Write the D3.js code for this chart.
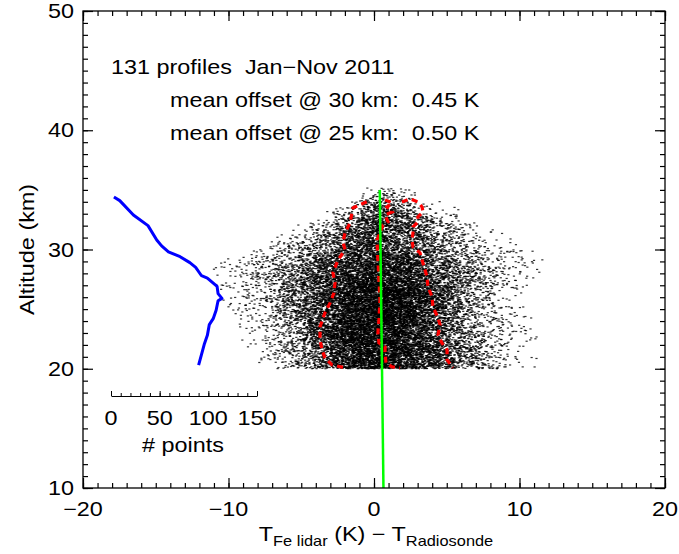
<!DOCTYPE html>
<html><head><meta charset="utf-8">
<script src="https://cdn.jsdelivr.net/npm/d3@7"></script>
<style>
body{margin:0;background:#fff;}
text{font-family:"Liberation Sans",Arial,Helvetica,sans-serif;fill:#000;}
</style></head>
<body>
<svg id="chart" width="679" height="554"></svg>
<script>
// ---------------- data ----------------
const xTicksMajor = [-20, -10, 0, 10, 20];
const yTicksMajor = [10, 20, 30, 40, 50];
const insetTicksMajor = [0, 50, 100, 150];

// red dashed: left envelope (mean - sigma)
const leftAlt = [34.0,33.49,33.07,32.23,31.39,30.64,29.97,29.13,28.04,27.20,26.36,25.52,24.69,23.51,22.42,21.58,20.91,20.33,20.08];
const leftK   = [-0.5,-1.44,-1.51,-1.65,-1.99,-2.13,-1.99,-2.47,-2.82,-2.68,-2.75,-3.02,-3.37,-3.71,-3.71,-3.57,-3.37,-2.89,-1.99];
// red dashed: right envelope (mean + sigma)
const rightAlt = [33.99,34.24,33.99,33.57,33.15,32.73,32.31,31.89,31.39,30.80,30.22,29.72,29.13,28.29,27.70,26.86,26.03,25.19,24.27,23.68,22.84,22.17,21.58,20.75,20.08];
const rightK   = [1.92,2.47,3.02,3.30,3.37,3.02,3.02,2.68,2.68,2.61,2.68,3.16,3.30,3.51,3.64,3.71,3.99,4.05,4.40,4.54,4.40,4.67,5.02,5.02,5.43];
// red dashed: mean
const centerAlt = [34.16,33.91,33.57,33.15,32.90,32.31,32.06,30.80,29.13,27.45,25.77,24.10,23.01,22.17,21.84,21.42,20.50,20.16,20.08];
const centerK   = [0.76,1.24,0.89,1.24,0.76,0.96,0.62,0.21,0.27,0.34,0.41,0.34,0.27,0.34,0.76,0.76,0.82,1.24,1.79];

// blue: number of points vs altitude
const countAlt = [34.4,34.1,32.9,32.0,30.8,30.3,29.8,29.4,28.9,28.5,27.8,27.6,26.9,26.3,25.9,25.7,24.9,24.2,23.7,22.8,22.1,21.5,20.3];
const counts   = [3,9,23,38,47,52,59,71,81,87,93,99,109,110,114,110,108,105,101,99,96,94,90];
// scatter cloud: read extent of the black points (K) vs altitude
const cloudAlt   = [20.0, 22.0, 24.0, 26.0, 28.5, 30.0, 32.0, 34.0, 35.2];
const cloudLowK  = [-7.5, -8.2, -8.5, -10.0, -10.8, -8.5, -5.0, -2.0, -1.0];
const cloudHighK = [10.3, 10.5, 10.0, 9.0, 11.0, 10.0, 7.5, 4.5, 4.0];
const topAlt = [34.4, 34.8, 35.2];
const topCount = [5, 3, 2];

// green: linear fit of mean offset
const fitAlt = [10, 35];
const fitK = [0.65, 0.40];

// text
const infoLines = ["131 profiles\u00a0\u00a0Jan\u2212Nov 2011", "mean offset @ 30 km:\u00a0\u00a00.45 K", "mean offset @ 25 km:\u00a0\u00a00.50 K"];

// ---------------- layout ----------------
const svg = d3.select("#chart");
const L = 83, R = 665, T = 11, B = 488;
const x = d3.scaleLinear().domain([-20, 20]).range([L, R]);
const y = d3.scaleLinear().domain([10, 50]).range([B, T]);
const xi = d3.scaleLinear().domain([0, 150]).range([111, 257]);
const insetY = 396;
const FS = 20, SX = 1.17;

function label(g, px, py, s, anchor, rot) {
  return g.append("text")
    .attr("transform", `translate(${px},${py})` + (rot ? ` rotate(${rot})` : "") + ` scale(${SX},1)`)
    .attr("text-anchor", anchor || "start").attr("font-size", FS).text(s);
}

// ---------------- scatter cloud ----------------
function interp(xs, ys, v) {
  const pairs = xs.map((a, i) => [a, ys[i]]).sort((a, b) => a[0] - b[0]);
  if (v <= pairs[0][0]) return pairs[0][1];
  if (v >= pairs[pairs.length - 1][0]) return pairs[pairs.length - 1][1];
  for (let i = 1; i < pairs.length; i++) {
    if (v <= pairs[i][0]) {
      const t = (v - pairs[i-1][0]) / (pairs[i][0] - pairs[i-1][0]);
      return pairs[i-1][1] + t * (pairs[i][1] - pairs[i-1][1]);
    }
  }
}
// inverse normal CDF (Acklam)
function ninv(p) {
  const a=[-3.969683028665376e+01,2.209460984245205e+02,-2.759285104469687e+02,1.383577518672690e+02,-3.066479806614716e+01,2.506628277459239e+00];
  const b=[-5.447609879822406e+01,1.615858368580409e+02,-1.556989798598866e+02,6.680131188771972e+01,-1.328068155288572e+01];
  const c=[-7.784894002430293e-03,-3.223964580411365e-01,-2.400758277161838e+00,-2.549671688254167e+00,4.374664141464968e+00,2.938163982698783e+00];
  const d=[7.784695709041462e-03,3.224671290700398e-01,2.445134137142996e+00,3.754408661907416e+00];
  const pl=0.02425;
  if (p < pl) { const q=Math.sqrt(-2*Math.log(p)); return (((((c[0]*q+c[1])*q+c[2])*q+c[3])*q+c[4])*q+c[5])/((((d[0]*q+d[1])*q+d[2])*q+d[3])*q+1); }
  if (p > 1-pl) { const q=Math.sqrt(-2*Math.log(1-p)); return -(((((c[0]*q+c[1])*q+c[2])*q+c[3])*q+c[4])*q+c[5])/((((d[0]*q+d[1])*q+d[2])*q+d[3])*q+1); }
  const q=p-0.5, r=q*q;
  return (((((a[0]*r+a[1])*r+a[2])*r+a[3])*r+a[4])*r+a[5])*q/(((((b[0]*r+b[1])*r+b[2])*r+b[3])*r+b[4])*r+1);
}
// deterministic integer hash -> [0,1) used to scatter points inside the read envelope
function hash01(i) {
  i = Math.imul(i ^ (i >>> 16), 0x45d9f3b);
  i = Math.imul(i ^ (i >>> 16), 0x45d9f3b);
  i ^= i >>> 16;
  return (i >>> 0) / 4294967296;
}
const cAlt = centerAlt.filter(a => a <= 32.1 && a >= 20.4), cK = centerK.filter((k, i) => centerAlt[i] <= 32.1 && centerAlt[i] >= 20.4);
const points = [];
const step = 0.06;
let li = 0, idx = 1;
for (let a = 20.0 + step / 2; a <= 35.2; a += step, li++) {
  const n = Math.round(a <= 34.4 ? interp(countAlt, counts, a) : interp(topAlt, topCount, a));
  const c = interp(cAlt, cK, a);
  const lo = interp(cloudAlt, cloudLowK, a), hi = interp(cloudAlt, cloudHighK, a);
  const sl = (c - lo) / 2.7, sr = (hi - c) / 2.7;
  for (let j = 0; j < n; j++, idx++) {
    const p = 0.0015 + 0.997 * hash01(idx * 2 + 11);
    const v = hash01(idx * 2 + 7919);
    const z = ninv(p);
    const k = c + (z < 0 ? z * sl : z * sr);
    const da = (v - 0.5) * step;
    points.push({k: k, alt: Math.min(35.25, Math.max(20.0, a + da))});
  }
}
svg.append("g").attr("class", "scatter")
  .selectAll("rect").data(points).join("rect")
  .attr("x", d => x(d.k) - 1).attr("y", d => y(d.alt) - 0.6)
  .attr("width", 2.2).attr("height", 1.2)
  .attr("fill", "#000").attr("opacity", 0.8);

// ---------------- lines ----------------
const kaLine = d3.line().x(d => x(d[1])).y(d => y(d[0]));
[[leftAlt, leftK], [rightAlt, rightK], [centerAlt, centerK]].forEach(([al, kk]) => {
  svg.append("path").datum(al.map((a, i) => [a, kk[i]]))
    .attr("d", kaLine).attr("fill", "none").attr("stroke", "#ff0000")
    .attr("stroke-width", 3.2).attr("stroke-dasharray", "6,4.5");
});
svg.append("path").datum(fitAlt.map((a, i) => [a, fitK[i]]))
  .attr("d", kaLine).attr("fill", "none").attr("stroke", "#00ff00").attr("stroke-width", 2.5);

const blueLine = d3.line().x(d => xi(d[1])).y(d => y(d[0]));
svg.append("path").datum(countAlt.map((a, i) => [a, counts[i]]))
  .attr("d", blueLine).attr("fill", "none").attr("stroke", "#0000ff")
  .attr("stroke-width", 3).attr("stroke-linejoin", "round");

// ---------------- axes ----------------
const xMinor = d3.range(-20, 21, 1);
const yMinor = d3.range(10, 51, 1);
function styleAxis(g) { g.select(".domain").remove(); g.selectAll("line").attr("stroke", "#000").attr("stroke-width", 1.2); }
svg.append("g").attr("transform", `translate(0,${B})`).call(d3.axisBottom(x).tickValues(xMinor).tickSize(-5).tickFormat("")).call(styleAxis);
svg.append("g").attr("transform", `translate(0,${B})`).call(d3.axisBottom(x).tickValues(xTicksMajor).tickSize(-10).tickFormat("")).call(styleAxis);
svg.append("g").attr("transform", `translate(0,${T})`).call(d3.axisTop(x).tickValues(xMinor).tickSize(-5).tickFormat("")).call(styleAxis);
svg.append("g").attr("transform", `translate(0,${T})`).call(d3.axisTop(x).tickValues(xTicksMajor).tickSize(-10).tickFormat("")).call(styleAxis);
svg.append("g").attr("transform", `translate(${L},0)`).call(d3.axisLeft(y).tickValues(yMinor).tickSize(-5).tickFormat("")).call(styleAxis);
svg.append("g").attr("transform", `translate(${L},0)`).call(d3.axisLeft(y).tickValues(yTicksMajor).tickSize(-10).tickFormat("")).call(styleAxis);
svg.append("g").attr("transform", `translate(${R},0)`).call(d3.axisRight(y).tickValues(yMinor).tickSize(-5).tickFormat("")).call(styleAxis);
svg.append("g").attr("transform", `translate(${R},0)`).call(d3.axisRight(y).tickValues(yTicksMajor).tickSize(-10).tickFormat("")).call(styleAxis);
svg.append("rect").attr("x", L).attr("y", T).attr("width", R - L).attr("height", B - T)
  .attr("fill", "none").attr("stroke", "#000").attr("stroke-width", 1.3);

const fmt = v => (v < 0 ? "\u2212" + Math.abs(v) : String(v));
const xl = svg.append("g");
xTicksMajor.forEach(v => label(xl, x(v), B + 28, fmt(v), "middle"));
const yl = svg.append("g");
yTicksMajor.forEach(v => label(yl, L - 9, y(v) + 7, fmt(v), "end"));

// y title
label(svg, 34, (T + B) / 2, "Altitude (km)", "middle", -90);
// x title with subscripts
const xt = svg.append("text").attr("transform", `translate(${(L + R) / 2 + 2},541) scale(${SX},1)`)
  .attr("text-anchor", "middle").attr("font-size", FS);
xt.append("tspan").text("T");
xt.append("tspan").attr("font-size", 14).attr("dy", 5).text("Fe lidar");
xt.append("tspan").attr("dy", -5).text(" (K) \u2212 T");
xt.append("tspan").attr("font-size", 14).attr("dy", 5).text("Radiosonde");

// ---------------- inset axis ----------------
const ig = svg.append("g").attr("transform", `translate(0,${insetY})`);
ig.call(d3.axisTop(xi).tickValues(d3.range(0, 151, 10)).tickSize(3).tickSizeOuter(0).tickFormat(""));
ig.select(".domain").attr("stroke", "#000").attr("stroke-width", 1);
ig.selectAll("line").attr("stroke", "#000").attr("stroke-width", 1);
svg.append("g").attr("transform", `translate(0,${insetY})`)
  .call(d3.axisTop(xi).tickValues(insetTicksMajor).tickSize(5).tickFormat(""))
  .call(g => { g.select(".domain").remove(); g.selectAll("line").attr("stroke", "#000"); });
const il = svg.append("g");
insetTicksMajor.forEach(v => label(il, xi(v), insetY + 29, String(v), "middle"));
label(svg, 183, insetY + 56, "# points", "middle");

// ---------------- info text ----------------
label(svg, 111, 74, infoLines[0]);
label(svg, 170, 107, infoLines[1]);
label(svg, 170, 140, infoLines[2]);
</script>
</body></html>
